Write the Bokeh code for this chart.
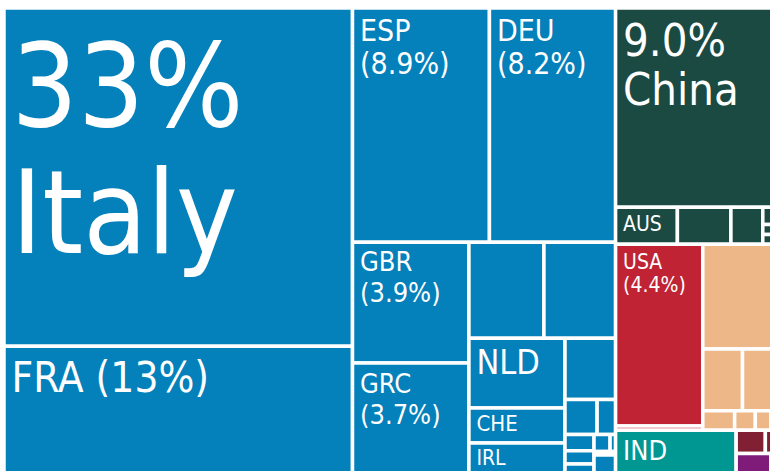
from bokeh.plotting import figure
from bokeh.models import Range1d, ColumnDataSource
from bokeh.core.properties import value
from bokeh.embed import file_html
from bokeh.resources import INLINE

# ---------------- data (shares in %) ----------------
europe_names = ["ITA", "FRA", "ESP", "DEU", "GBR", "GRC", "EU1", "EU2", "NLD", "CHE", "IRL",
                "EU3", "EU4", "EU5", "EU6", "EU7", "EU8", "EU9", "EU10", "EU11", "EU12"]
europe_shares = [32.7, 12.7, 8.9, 8.2, 3.9, 3.7, 2.0, 1.91, 1.86, 0.93, 0.92,
                 0.86, 0.31, 0.178, 0.132, 0.107, 0.108, 0.076, 0.026, 0.021, 0.135]

asia_names = ["CHN", "AUS", "AS1", "AS2", "AS3", "AS4", "AS5"]
asia_shares = [9.0, 0.634, 0.549, 0.327, 0.075, 0.043, 0.042]

america_names = ["USA", "NA1"]
america_shares = [4.4, 0.1]

tan_names = ["TN1", "TN2", "TN3", "TN4", "TN5", "TN6", "TN7"]
tan_shares = [2.198, 0.681, 0.615, 0.171, 0.111, 0.084, 0.04]

teal_names = ["IND"]
teal_shares = [1.585]

maroon_names = ["MR1", "MR2"]
maroon_shares = [0.19, 0.085]

purple_names = ["PU1", "PU2"]
purple_shares = [0.23, 0.05]

# label templates ({pct} is filled from the share)
label_line1 = {"ITA": "{pct}", "CHN": "{pct}", "FRA": "FRA ({pct})", "ESP": "ESP", "DEU": "DEU",
               "GBR": "GBR", "GRC": "GRC", "USA": "USA", "NLD": "NLD", "CHE": "CHE", "IRL": "IRL",
               "AUS": "AUS", "IND": "IND"}
label_line2 = {"ITA": "Italy", "CHN": "China", "ESP": "({pct})", "DEU": "({pct})",
               "GBR": "({pct})", "GRC": "({pct})", "USA": "({pct})"}

# nesting of the treemap (alternating horizontal / vertical slices, root horizontal)
tree = [
    ["ITA", "FRA"],
    [["ESP", "DEU"],
     [["GBR", "GRC"],
      [["EU1", "EU2"],
       [["NLD", "CHE", "IRL"],
        ["EU3", ["EU4", "EU5"], [["EU6", "EU7", "EU8"], [["EU9", "EU10"], "EU11", "EU12"]]]]]]],
    ["CHN", ["AUS", "AS1", "AS2", ["AS3", "AS4", "AS5"]],
     [["USA", "NA1"], ["TN1", ["TN2", "TN3"], ["TN4", "TN5", "TN6", "TN7"]]],
     ["IND", [["MR1", "MR2"], ["PU1", "PU2"]]]],
]

# ---------------- styles ----------------
group_colors = {"europe": "#0480BB", "asia": "#1B4A42", "america": "#C02334", "tan": "#EEB788",
                "teal": "#009692", "maroon": "#802032", "purple": "#7F1C7A"}
FONT = "DejaVu Sans Condensed"
BASELINE_SHIFT = 0.367   # renderer places the glyph baseline this many em below the anchor
# name: (font px, first baseline offset from cell top, line step)
label_style = {"ITA": (116, 120, 127), "CHN": (45, 48.9, 49.5), "FRA": (42, 46.5, 0),
               "ESP": (30, 33.4, 33.5), "DEU": (30, 33.4, 33.5), "GBR": (27, 29.4, 30.7),
               "GRC": (27, 30.4, 31.3), "USA": (21, 25.7, 23), "AUS": (21, 24.7, 0),
               "NLD": (34, 36, 0), "CHE": (22, 23.8, 0), "IRL": (21, 23, 0), "IND": (27, 30.2, 0)}
PAD_X = 7.5
FRAME = (3.5, 7.5, 777.9, 477.0)

# ---------------- build ----------------
share = {}
group = {}
for g, ns, vs in [("europe", europe_names, europe_shares), ("asia", asia_names, asia_shares),
                  ("america", america_names, america_shares), ("tan", tan_names, tan_shares),
                  ("teal", teal_names, teal_shares), ("maroon", maroon_names, maroon_shares),
                  ("purple", purple_names, purple_shares)]:
    for n, v in zip(ns, vs):
        share[n] = v
        group[n] = g


def total(node):
    if isinstance(node, str):
        return share[node]
    return sum(total(c) for c in node)


cells = {}


def layout(node, x0, y0, x1, y1, horizontal):
    if isinstance(node, str):
        cells[node] = (x0, y0, x1, y1)
        return
    tots = [total(c) for c in node]
    s = sum(tots)
    pos = x0 if horizontal else y0
    span = (x1 - x0) if horizontal else (y1 - y0)
    for c, t in zip(node, tots):
        step = span * t / s
        if horizontal:
            layout(c, pos, y0, pos + step, y1, False)
        else:
            layout(c, x0, pos, x1, pos + step, True)
        pos += step


layout(tree, *FRAME, True)

order = list(cells.keys())
rect_src = ColumnDataSource(dict(
    left=[cells[n][0] for n in order], right=[cells[n][2] for n in order],
    top=[cells[n][1] for n in order], bottom=[cells[n][3] for n in order],
    color=[group_colors[group[n]] for n in order], name=order))


def fmt(v):
    return f"{v:.0f}%" if v >= 10 else f"{v:.1f}%"


tx, ty, tt, ts = [], [], [], []
for n, tmpl in label_line1.items():
    fs, off, stepl = label_style[n]
    x0, y0, x1, y1 = cells[n]
    base = y0 + off - BASELINE_SHIFT * fs
    tx.append(x0 + PAD_X); ty.append(base); tt.append(tmpl.format(pct=fmt(share[n]))); ts.append(f"{fs}px")
    if n in label_line2:
        tx.append(x0 + PAD_X); ty.append(base + stepl)
        tt.append(label_line2[n].format(pct=fmt(share[n]))); ts.append(f"{fs}px")
text_src = ColumnDataSource(dict(x=tx, y=ty, text=tt, size=ts))

p = figure(width=770, height=471, output_backend="svg", toolbar_location=None,
           x_range=Range1d(0, 770), y_range=Range1d(471, 0), min_border=0,
           background_fill_color="white", border_fill_color="white")
p.axis.visible = False
p.grid.visible = False
p.outline_line_color = None

p.quad(left="left", right="right", top="top", bottom="bottom", source=rect_src,
       fill_color="color", line_color="white", line_width=3.5)
p.text(x="x", y="y", text="text", source=text_src, text_font_size="size",
       text_font=value(FONT), text_color="white", text_baseline="alphabetic", text_align="left")

open("out.html", "w").write(file_html(p, INLINE))
